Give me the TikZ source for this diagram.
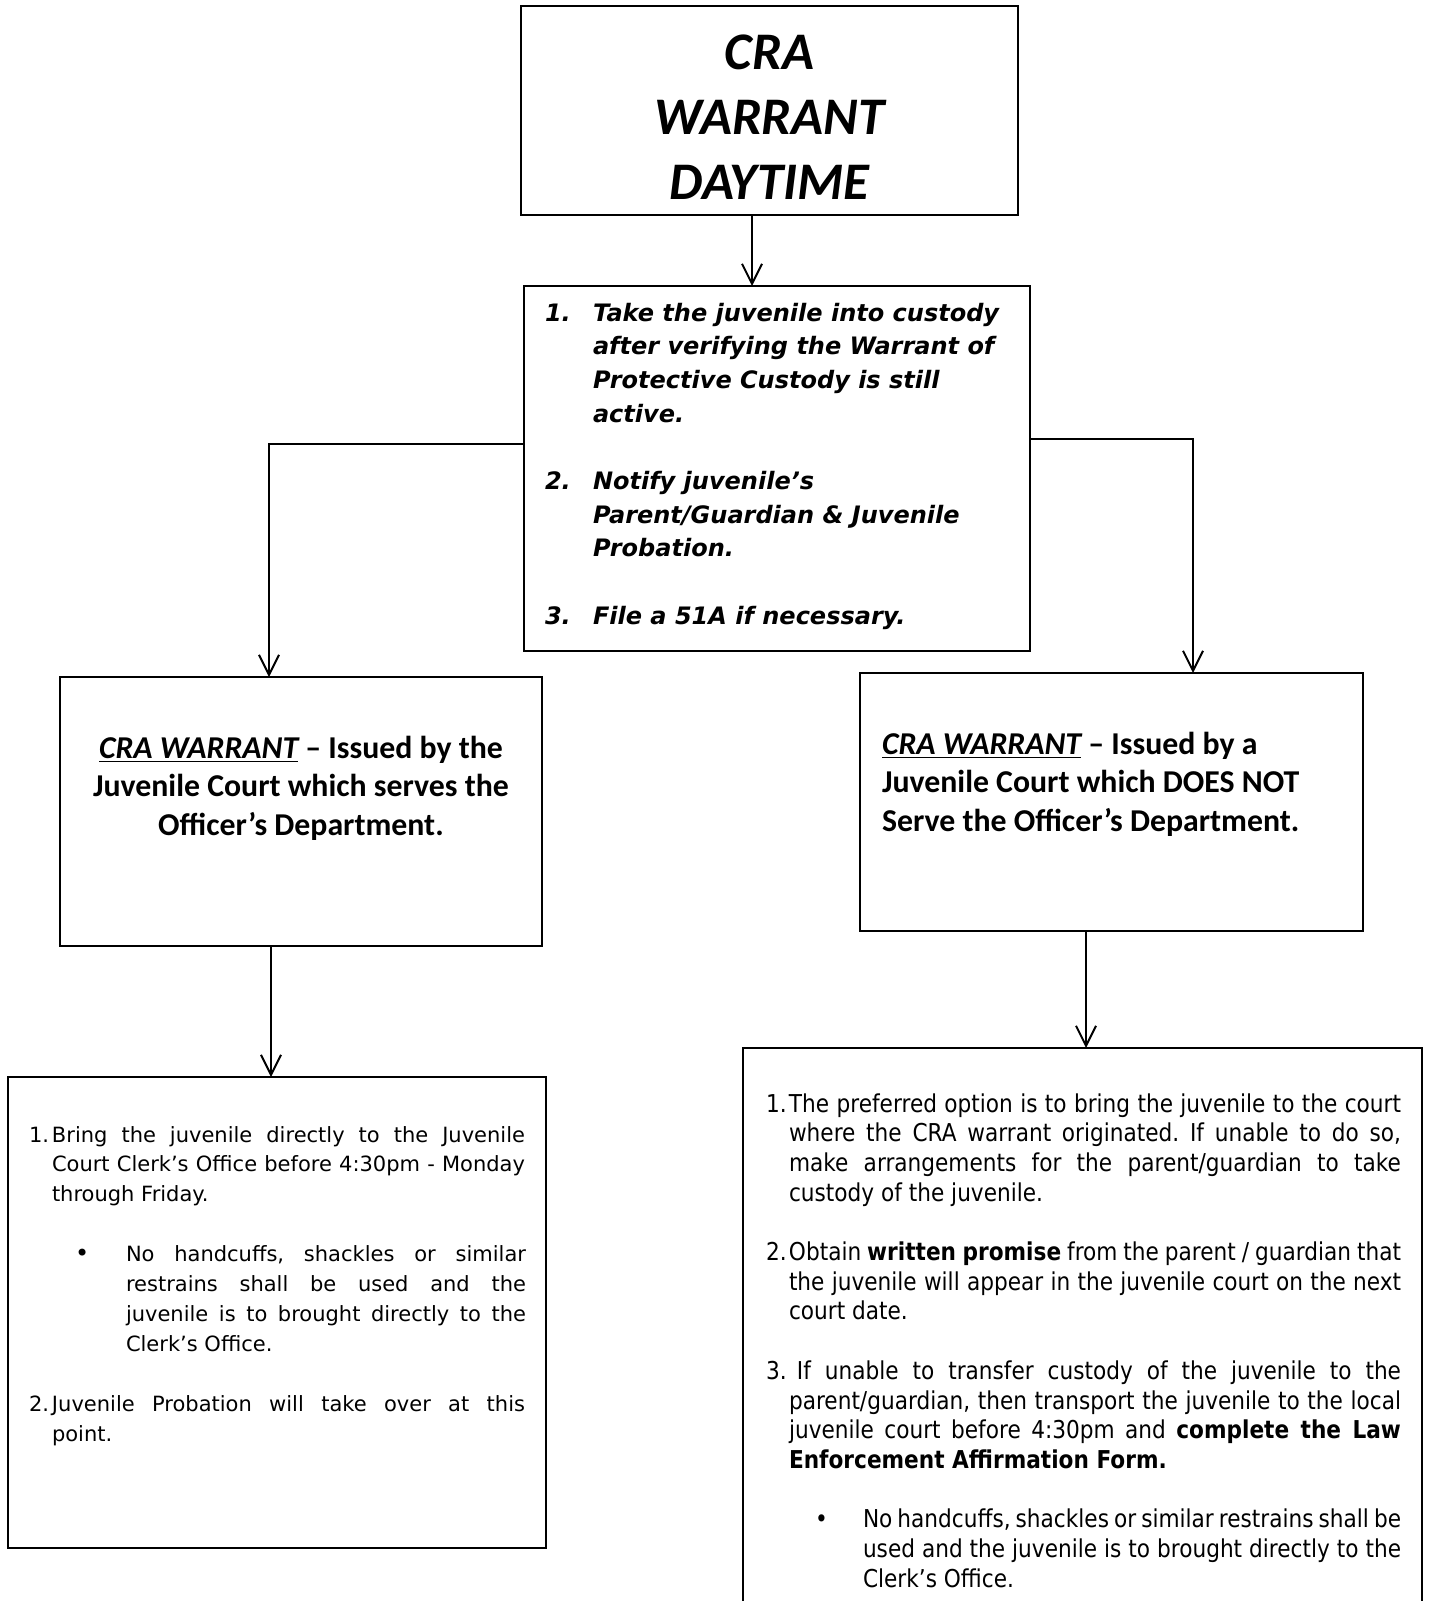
\documentclass[tikz,border=0pt]{standalone}
\usepackage{fontspec}
\usetikzlibrary{arrows.meta}
\newfontfamily\calfont{Carlito}
\newfontfamily\verfont{DejaVu Sans}
\newfontfamily\tahfont{DejaVu Sans}[FakeStretch=0.88]
\frenchspacing
\begin{document}
\begin{tikzpicture}[x=0.5pt,y=-0.5pt,
  box/.style={draw,line width=1pt,inner sep=0pt,outer sep=0pt},
  arr/.style={line width=1pt,-{Straight Barb[length=10pt,width=10pt,line width=1pt]}},
  txt/.style={anchor=base west,inner sep=0pt,outer sep=0pt},
  ctxt/.style={anchor=base,inner sep=0pt,outer sep=0pt}]
\useasboundingbox (0,0) rectangle (1430,1601);
\clip (0,0) rectangle (1430,1601);
\fill[white] (0,0) rectangle (1430,1601);

% boxes
\node[box,minimum width=248.5pt,minimum height=104.5pt] (b1) at (769.5,110.5) {};
\node[box,minimum width=253pt,minimum height=182.5pt] (b2) at (777,468.5) {};
\node[box,minimum width=241pt,minimum height=134.5pt] (b3) at (301,811.5) {};
\node[box,minimum width=251.5pt,minimum height=129pt] (b4) at (1111.5,802) {};
\node[box,minimum width=269pt,minimum height=235.5pt] (b5) at (277,1312.5) {};
\node[box,minimum width=339.5pt,minimum height=296pt] (b6) at (1082.5,1344) {};

% connectors
\coordinate (x1) at (752,0);
\coordinate (yl) at (0,444);
\coordinate (xl) at (269,0);
\coordinate (yr) at (0,439);
\coordinate (xr) at (1193,0);
\coordinate (x3) at (271,0);
\coordinate (x4) at (1086,0);
\draw[arr] (b1.south -| x1) -- (b2.north -| x1);
\draw[arr] (b2.west |- yl) -| (b3.north -| xl);
\draw[arr] (b2.east |- yr) -| (b4.north -| xr);
\draw[arr] (b3.south -| x3) -- (b5.north -| x3);
\draw[arr] (b4.south -| x4) -- (b6.north -| x4);

% title
\node[ctxt] (t1) at (769.5,69) {\parbox[t]{240pt}{\centering\calfont\bfseries\itshape\fontsize{26.4}{32.5}\selectfont
CRA\\WARRANT\\DAYTIME}};

% box 2
\node[txt] (t2) at (545,321) {\parbox[t]{240pt}{\raggedright\verfont\bfseries\itshape\fontsize{12}{16.85}\selectfont
\makebox[24pt][l]{1.}Take the juvenile into custody\\
\hspace*{24pt}after verifying the Warrant of\\
\hspace*{24pt}Protective Custody is still\\
\hspace*{24pt}active.\\[16.85pt]
\makebox[24pt][l]{2.}Notify juvenile’s\\
\hspace*{24pt}Parent/Guardian \& Juvenile\\
\hspace*{24pt}Probation.\\[16.85pt]
\makebox[24pt][l]{3.}File a 51A if necessary.}};

% box 3
\node[ctxt] (t3) at (301,758) {\parbox[t]{238pt}{\centering\calfont\bfseries\fontsize{15.9}{19.4}\selectfont
\underline{\itshape CRA WARRANT} – Issued by the\\
Juvenile Court which serves the\\
Officer’s Department.}};

% box 4
\node[txt] (t4) at (882,754) {\parbox[t]{240pt}{\raggedright\calfont\bfseries\fontsize{15.9}{19.4}\selectfont
\underline{\itshape CRA WARRANT} – Issued by a\\
Juvenile Court which DOES NOT\\
Serve the Officer’s Department.}};

% box 5
\node[txt] (t5) at (29,1142) {\parbox[t]{260pt}{\verfont\fontsize{10.5}{14.95}\selectfont
\makebox[11.5pt][l]{1.}\makebox[236.5pt][s]{Bring the juvenile directly to the Juvenile}\\
\hspace*{11.5pt}\makebox[236.5pt][s]{Court Clerk’s Office before 4:30pm - Monday}\\
\hspace*{11.5pt}through Friday.\\[14.95pt]
\hspace*{23pt}\makebox[25.5pt][l]{\large•}\makebox[200pt][s]{No handcuffs, shackles or similar}\\
\hspace*{48.5pt}\makebox[200pt][s]{restrains shall be used and the}\\
\hspace*{48.5pt}\makebox[200pt][s]{juvenile is to brought directly to the}\\
\hspace*{48.5pt}Clerk’s Office.\\[14.95pt]
\makebox[11.5pt][l]{2.}\makebox[236.5pt][s]{Juvenile Probation will take over at this}\\
\hspace*{11.5pt}point.}};

% box 6
\node[txt] (t6) at (766,1112) {\parbox[t]{330pt}{\tahfont\fontsize{12.3}{14.85}\selectfont
\makebox[11.5pt][l]{1.}\makebox[306pt][s]{The preferred option is to bring the juvenile to the court}\\
\hspace*{11.5pt}\makebox[306pt][s]{where the CRA warrant originated. If unable to do so,}\\
\hspace*{11.5pt}\makebox[306pt][s]{make arrangements for the parent/guardian to take}\\
\hspace*{11.5pt}custody of the juvenile.\\[14.85pt]
\makebox[11.5pt][l]{2.}\makebox[306pt][s]{Obtain \textbf{written promise} from the parent / guardian that}\\
\hspace*{11.5pt}\makebox[306pt][s]{the juvenile will appear in the juvenile court on the next}\\
\hspace*{11.5pt}court date.\\[14.85pt]
\makebox[15.5pt][l]{3.}\makebox[302pt][s]{If unable to transfer custody of the juvenile to the}\\
\hspace*{11.5pt}\makebox[306pt][s]{parent/guardian, then transport the juvenile to the local}\\
\hspace*{11.5pt}\makebox[306pt][s]{juvenile court before 4:30pm and \textbf{complete the Law}}\\
\hspace*{11.5pt}\textbf{Enforcement Affirmation Form.}\\[14.85pt]
\hspace*{24.5pt}\makebox[24pt][l]{•}\makebox[269pt][s]{No handcuffs, shackles or similar restrains shall be}\\
\hspace*{48.5pt}\makebox[269pt][s]{used and the juvenile is to brought directly to the}\\
\hspace*{48.5pt}Clerk’s Office.}};
\end{tikzpicture}
\end{document}
